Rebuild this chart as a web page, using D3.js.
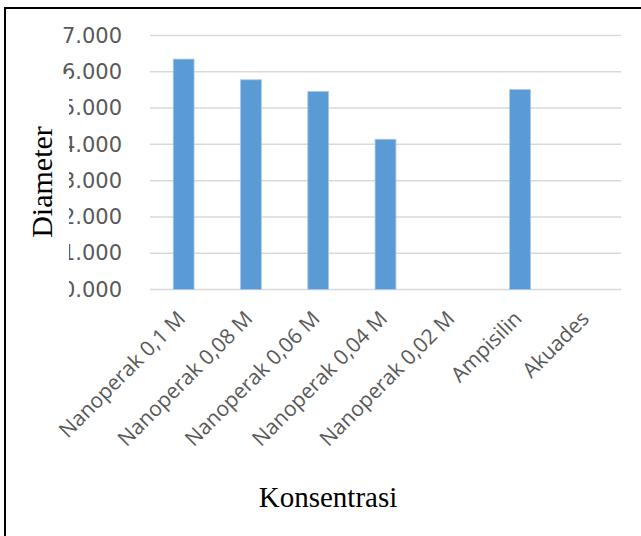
<!DOCTYPE html>
<html>
<head>
<meta charset="utf-8">
<script src="https://cdn.jsdelivr.net/npm/d3@7"></script>
<style>
  body { margin: 0; background: #fff; }
  svg { display: block; }
</style>
</head>
<body>
<div id="chart"></div>
<script>
// *********************************************
// DATA
// *********************************************
var categories = ["Nanoperak 0,1 M", "Nanoperak 0,08 M", "Nanoperak 0,06 M",
                  "Nanoperak 0,04 M", "Nanoperak 0,02 M", "Ampisilin", "Akuades"];
var diameters = [6.35, 5.78, 5.46, 4.14, 0, 5.51, 0];
var yTicks = [0, 1, 2, 3, 4, 5, 6, 7];

var yTitle = "Diameter";
var xTitle = "Konsentrasi";

// *********************************************
// SETUP
// *********************************************
var width = 641, height = 536;
var plotBox = {left: 150, right: 621, top: 35.5, bottom: 289.5};

var svg = d3.select("#chart").append("svg")
    .attr("width", width)
    .attr("height", height);

// outer frame (only top + left edges fall inside the picture)
svg.append("path")
    .attr("d", "M5,536 V8 H641")
    .style("fill", "none")
    .style("stroke", "#000")
    .style("stroke-width", 2);

var x = d3.scaleBand()
    .domain(categories)
    .range([plotBox.left, plotBox.right])
    .paddingInner(0.69)
    .paddingOuter(0.345);

var y = d3.scaleLinear()
    .domain([0, 7])
    .range([plotBox.bottom, plotBox.top]);

// gridlines
svg.append("g").attr("class", "grid")
  .selectAll("line")
  .data(yTicks).enter()
  .append("line")
    .attr("x1", plotBox.left)
    .attr("x2", plotBox.right)
    .attr("y1", d => y(d))
    .attr("y2", d => y(d))
    .style("stroke", "#d9d9d9")
    .style("stroke-width", 1.5);

// y tick labels
var yAxis = d3.axisLeft(y).tickValues(yTicks).tickFormat(d3.format(".3f")).tickSize(0).tickPadding(0);
var yg = svg.append("g")
    .attr("transform", "translate(122,0)")
    .call(yAxis);
yg.select(".domain").remove();
yg.selectAll("text")
    .style("font-family", "'DejaVu Sans', sans-serif")
    .style("font-size", "21px")
    .style("fill", "#595959");

// bars
svg.append("g").attr("class", "bars")
  .selectAll("rect")
  .data(diameters).enter()
  .append("rect")
    .attr("x", (d, i) => x(categories[i]))
    .attr("y", d => y(d))
    .attr("width", x.bandwidth())
    .attr("height", d => y(0) - y(d))
    .style("fill", "#5b9bd5")
    .style("stroke", "#a9c9ea")
    .style("stroke-width", 0.8);

// category labels, rotated
svg.append("g").attr("class", "xlabels")
  .selectAll("text")
  .data(categories).enter()
  .append("text")
    .attr("transform", d => "translate(" + (x(d) + x.bandwidth() / 2 + 3) + "," + 320 + ") rotate(-45)")
    .attr("text-anchor", "end")
    .style("font-family", "'Open Sans', sans-serif")
    .style("font-size", "21px")
    .style("fill", "#595959")
    .text(d => d);

// y title sits on a white box that hides the first digit of the ticks
svg.append("rect")
    .attr("x", 20)
    .attr("y", 74)
    .attr("width", 49)
    .attr("height", 226)
    .style("fill", "#fff");

svg.append("text")
    .attr("transform", "translate(52,182) rotate(-90)")
    .attr("text-anchor", "middle")
    .style("font-family", "'Liberation Serif', 'Times New Roman', serif")
    .style("font-size", "30px")
    .style("fill", "#000")
    .text(yTitle);

svg.append("text")
    .attr("x", 328)
    .attr("y", 507)
    .attr("text-anchor", "middle")
    .style("font-family", "'Liberation Serif', 'Times New Roman', serif")
    .style("font-size", "29px")
    .style("fill", "#000")
    .text(xTitle);
</script>
</body>
</html>
